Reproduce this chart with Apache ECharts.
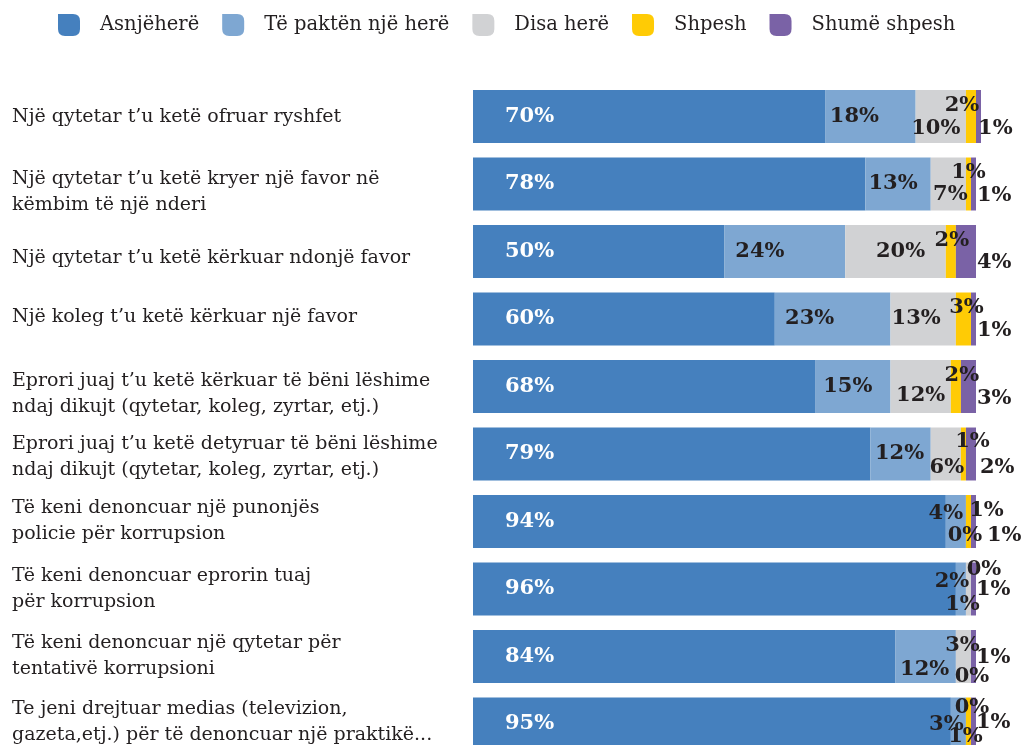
<!DOCTYPE html>
<html>
<head>
<meta charset="utf-8">
<script src="https://cdn.jsdelivr.net/npm/echarts@6/dist/echarts.min.js"></script>
<style>
  html, body { margin: 0; padding: 0; background: #ffffff; overflow: hidden; }
  #chart-box { width: 1024px; height: 760px; }
</style>
</head>
<body>
<div id="chart-box"></div>
<script>
// kategorite (boshti Y)
var categories = [
    'Një qytetar t\u2019u ketë ofruar ryshfet',
    'Një qytetar t\u2019u ketë kryer një favor në\nkëmbim të një nderi',
    'Një qytetar t\u2019u ketë kërkuar ndonjë favor',
    'Një koleg t\u2019u ketë kërkuar një favor',
    'Eprori juaj t\u2019u ketë kërkuar të bëni lëshime\nndaj dikujt (qytetar, koleg, zyrtar, etj.)',
    'Eprori juaj t\u2019u ketë detyruar të bëni lëshime\nndaj dikujt (qytetar, koleg, zyrtar, etj.)',
    'Të keni denoncuar një punonjës\npolicie për korrupsion',
    'Të keni denoncuar eprorin tuaj\npër korrupsion',
    'Të keni denoncuar një qytetar për\ntentativë korrupsioni',
    'Te jeni drejtuar medias (televizion,\ngazeta,etj.) për të denoncuar një praktikë...'
];

var seriesNames = ['Asnjëherë', 'Të paktën një herë', 'Disa herë', 'Shpesh', 'Shumë shpesh'];

// vlerat ne perqindje
var asnjehere = [70, 78, 50, 60, 68, 79, 94, 96, 84, 95];
var paktenNjeHere = [18, 13, 24, 23, 15, 12, 4, 2, 12, 3];
var disaHere = [10, 7, 20, 13, 12, 6, 0, 1, 3, 0];
var shpesh = [2, 1, 2, 3, 2, 1, 1, 0, 0, 1];
var shumeShpesh = [1, 1, 4, 1, 3, 2, 1, 1, 1, 1];

var colors = ['#4580be', '#7ea7d2', '#d1d2d4', '#ffcb05', '#7a62a6'];

// zhvendosje e etiketave qe te mos mbivendosen (dx, dy)
var labelShift = [
    null,
    [[-16, 0], [-5, 0], [-25, 0], [-23, 0], [-5, 0], [-1, 0], [-10, -8], [-9, -7], [-1, 13], [-12, 1]],
    [[-5, 12], [2, 11], [5, 0], [-7, 0], [0, 9], [1, 14], [-1, 14], [-6, 16], [-1, -11], [6, -16]],
    [[-9, -11], [0, -11], [1, -11], [3, -11], [6, -11], [9, -12], [18, -11], [13, -19], [1, 20], [-3, 13]],
    [[-4, 12], [0, 12], [0, 11], [0, 12], [0, 12], [3, 14], [10, 14], [-1, 1], [-1, 1], [-1, -1]]
];
// zhvendosje vertikale e tekstit te kategorive (px)
var categoryShift = [1, 8, 7, -2, 8, 3, 0, 0, 0, -2];

var chartDom = document.getElementById('chart-box');
var myChart = echarts.init(chartDom);
var option;

var valueLists = [asnjehere, paktenNjeHere, disaHere, shpesh, shumeShpesh];

var labelBase = {
    show: true,
    fontFamily: 'DejaVu Serif',
    fontWeight: 'bold',
    fontSize: 21,
    color: '#231f20',
    formatter: '{c}%'
};

var series = valueLists.map(function (values, s) {
    var label = Object.assign({}, labelBase);
    if (s === 0) {
        label.position = 'insideLeft';
        label.distance = 32;
        label.color = '#ffffff';
    } else if (s === 4) {
        label.position = 'right';
        label.distance = 1;
    } else {
        label.position = 'inside';
    }
    return {
        name: seriesNames[s],
        type: 'bar',
        stack: 'total',
        barCategoryGap: '21.5%',
        clip: false,
        label: label,
        labelLayout: function (params) {
            var shift = labelShift[s] ? labelShift[s][params.dataIndex] : [0, 0];
            return { dx: shift[0], dy: shift[1], hideOverlap: false };
        },
        data: values
    };
});

// stilet rich per kategorite
var catText = { fontFamily: 'DejaVu Serif', fontSize: 19, lineHeight: 26, color: '#231f20' };
var richStyles = { t: Object.assign({}, catText) };
categoryShift.forEach(function (d, i) {
    richStyles['s' + i] = Object.assign({}, catText, {
        padding: d >= 0 ? [2 * d, 0, 0, 0] : [0, 0, -2 * d, 0]
    });
    richStyles['g' + i] = { fontSize: 1, lineHeight: Math.max(1, 2 * Math.abs(d)) };
});

option = {
    animation: false,
    color: colors,
    legend: {
        left: 53,
        top: 9,
        itemWidth: 22,
        itemHeight: 22,
        itemGap: 23,
        icon: 'path://M0,0 L15,0 Q22,0 22,7 L22,15 Q22,22 15,22 L7,22 Q0,22 0,15 Z',
        textStyle: {
            fontFamily: 'DejaVu Serif',
            fontSize: 19.5,
            color: '#231f20',
            padding: [0, 0, 0, 15]
        },
        data: seriesNames
    },
    grid: {
        left: 473,
        right: 48,
        top: 82.75,
        height: 675,
        containLabel: false
    },
    xAxis: {
        type: 'value',
        min: 0,
        max: 100,
        show: false
    },
    yAxis: {
        type: 'category',
        inverse: true,
        data: categories,
        axisLine: { show: false },
        axisTick: { show: false },
        axisLabel: {
            align: 'left',
            margin: 461,
            fontFamily: 'DejaVu Serif',
            fontSize: 19,
            lineHeight: 26,
            color: '#231f20',
            formatter: function (value, index) {
                var lines = value.split('\n');
                var d = categoryShift[index];
                if (lines.length === 1) {
                    return '{s' + index + '|' + value + '}';
                }
                var body = lines.map(function (line) { return '{t|' + line + '}'; });
                if (d > 0) {
                    body.unshift('{g' + index + '|\u200b}');
                } else if (d < 0) {
                    body.push('{g' + index + '|\u200b}');
                }
                return body.join('\n');
            },
            rich: richStyles
        }
    },
    series: series
};

option && myChart.setOption(option);
</script>
</body>
</html>
